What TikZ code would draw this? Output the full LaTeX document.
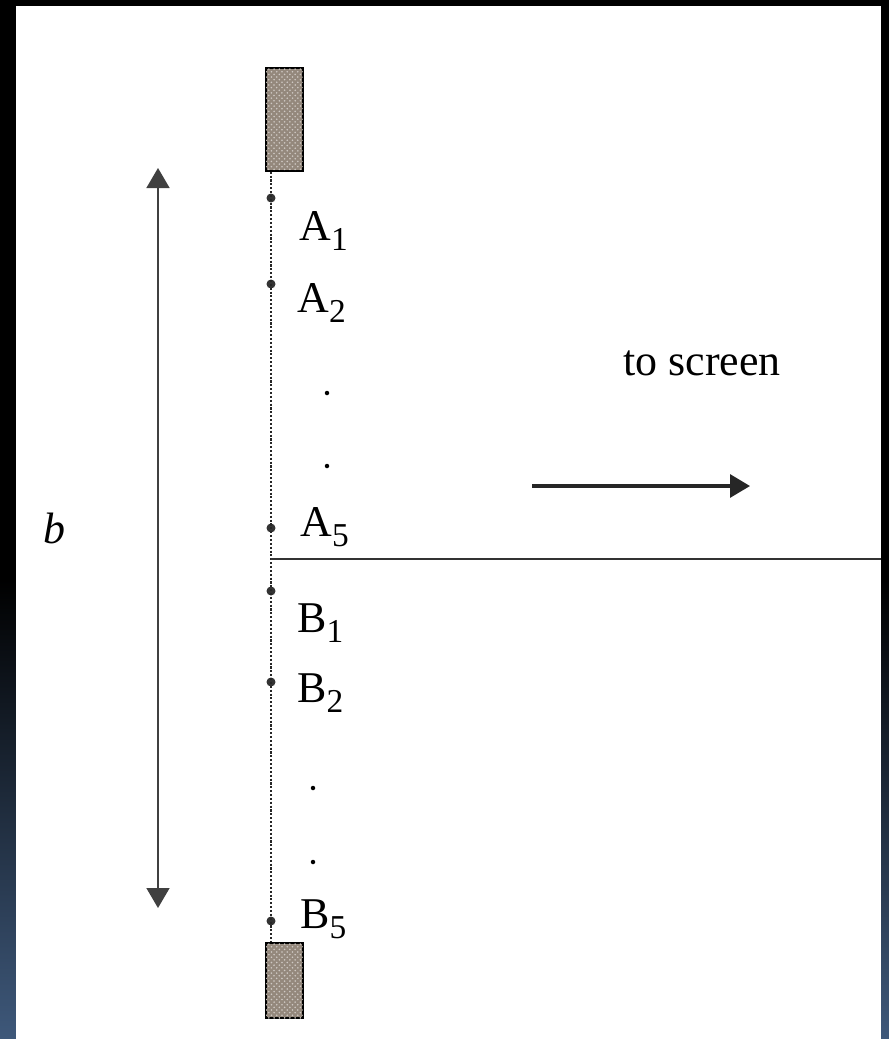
\documentclass[tikz,border=0pt]{standalone}
\usepackage{fontspec}
\setmainfont{Liberation Serif}
\usetikzlibrary{arrows.meta,positioning,patterns}
\definecolor{slitbrown}{RGB}{148,136,124}
\definecolor{bandblue}{RGB}{62,88,122}
\newcommand{\sbs}[1]{\raisebox{-5.7pt}{\fontsize{19}{20}\selectfont #1}}
\tikzset{
  slitblk/.style={draw,thick,fill=slitbrown,minimum width=0.74cm,inner sep=0pt,
    postaction={pattern=crosshatch dots,pattern color=white!55!slitbrown}},
  pnt/.style={circle,fill=black!80,inner sep=0pt,minimum size=0.18cm},
  ell/.style={circle,fill=black,inner sep=0pt,minimum size=0.09cm},
  lbl/.style={font=\fontsize{25}{30}\selectfont,inner sep=0pt,anchor=base west},
  darr/.style={{Triangle[width=0.46cm,length=0.4cm]}-{Triangle[width=0.46cm,length=0.4cm]},line width=0.9pt,draw=black!75,fill=black!75},
  arr/.style={-{Triangle[width=0.46cm,length=0.4cm]},line width=1.8pt,black!85},
  slitline/.style={densely dotted,line width=1.2pt,black!85},
  axisline/.style={line width=0.6pt,black!80}
}

\begin{document}
\begin{tikzpicture}[x=0.02cm,y=-0.02cm]
  \useasboundingbox (0,0) rectangle (889,1039);
  % frame
  \fill[black] (0,0) rectangle (889,1039);
  \shade[top color=black,bottom color=bandblue] (0,580) rectangle (889,1039);
  \fill[white] (16,6) rectangle (881,1039);

  % slit edges
  \node[slitblk,minimum height=2.06cm] (top) at (284.5,119.5) {};
  \node[slitblk,minimum height=1.5cm] (bot) at (284.5,980.5) {};

  % points in the slit
  \node[pnt] (A1) at (271,198) {};
  \node[pnt] (A2) at (271,284) {};
  \node[pnt] (A5) at (271,528) {};
  \node[pnt] (B1) at (271,591) {};
  \node[pnt] (B2) at (271,682) {};
  \node[pnt] (B5) at (271,921) {};
  \draw[slitline] (top.south -| A1) -- (bot.north -| A1);

  \node[lbl] (lA1) at (299,240) {A\sbs{1}};
  \node[lbl] (lA2) at (297,312) {A\sbs{2}};
  \node[lbl] (lA5) at (300,536) {A\sbs{5}};
  \node[lbl] (lB1) at (297,632) {B\sbs{1}};
  \node[lbl] (lB2) at (297,702) {B\sbs{2}};
  \node[lbl] (lB5) at (300,928) {B\sbs{5}};

  \node[ell] (ea1) at (327,393) {};
  \node[ell] (ea2) at (327,466) {};
  \node[ell] (eb1) at (313,788) {};
  \node[ell] (eb2) at (313,862) {};

  % slit width b
  \coordinate (btop) at (158,168);
  \coordinate (bbot) at (158,908);
  \draw[darr] (btop) -- (bbot);
  \node[lbl,font=\fontsize{25}{30}\selectfont\itshape] (bl) at (43,543) {b};

  % central axis and direction
  \coordinate (axis) at (271,559);
  \coordinate (edge) at (881,559);
  \draw[axisline] (axis) -- (edge);
  \coordinate (go) at (532,486);
  \coordinate (gone) at (750,486);
  \draw[arr] (go) -- (gone);
  \node[lbl] (scr) at (623,375) {to screen};
\end{tikzpicture}
\end{document}
